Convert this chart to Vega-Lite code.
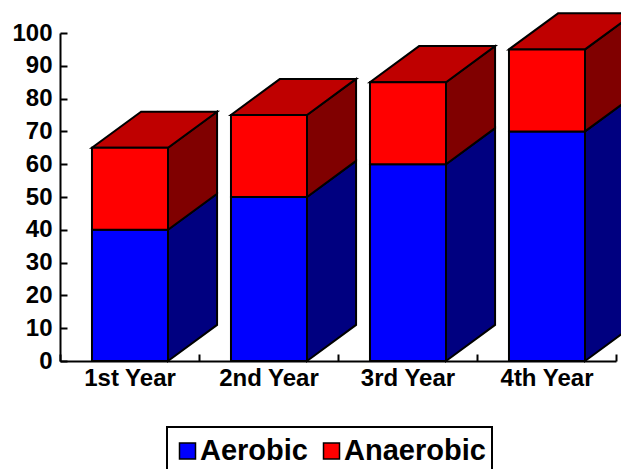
{
"$schema":"https://vega.github.io/schema/vega-lite/v6.json",
"width":556,"height":328,
"autosize":"none",
"padding":{"left":60,"top":33,"right":5,"bottom":108},
"background":"white",
"data":{"values":[
{"year":"1st Year","series":"Aerobic","low":0,"high":40},
{"year":"2nd Year","series":"Aerobic","low":0,"high":50},
{"year":"3rd Year","series":"Aerobic","low":0,"high":60},
{"year":"4th Year","series":"Aerobic","low":0,"high":70},
{"year":"1st Year","series":"Anaerobic","low":40,"high":65},
{"year":"2nd Year","series":"Anaerobic","low":50,"high":75},
{"year":"3rd Year","series":"Anaerobic","low":60,"high":85},
{"year":"4th Year","series":"Anaerobic","low":70,"high":95}
]},
"transform":[
{"calculate":"indexof(['1st Year','2nd Year','3rd Year','4th Year'],datum.year)","as":"i"},
{"calculate":"datum.i+0.23","as":"xl"},
{"calculate":"datum.i+0.777","as":"xr"}
],
"layer":[
{"transform":[{"calculate":"[0,1]","as":"t"},{"flatten":["t"]},
 {"calculate":"datum.xr+0.353*datum.t","as":"sx"},
 {"calculate":"datum.low+11*datum.t","as":"sy"},
 {"calculate":"datum.high+11*datum.t","as":"sy2"}],
 "mark":{"type":"area","stroke":"black","strokeWidth":2,"orient":"vertical","clip":false},
 "encoding":{
  "x":{"field":"sx","type":"quantitative","scale":{"domain":[0,4],"nice":false,"zero":false},
   "axis":{"orient":"bottom","values":[0,1,2,3,4],"labels":false,"title":null,"grid":false,"tickSize":-7,"tickWidth":2,"tickColor":"black","domainWidth":2,"domainColor":"black"}},
  "y":{"field":"sy","type":"quantitative","title":null,"scale":{"domain":[0,100],"nice":false},
   "axis":{"values":[0,10,20,30,40,50,60,70,80,90,100],"title":null,"grid":false,"tickSize":-7,"tickWidth":2,"tickColor":"black","domainWidth":2,"domainColor":"black","labelFont":"Liberation Sans","labelFontWeight":"bold","labelFontSize":24,"labelColor":"black","labelPadding":15,"labelOverlap":false,"labelBound":false,"labelFlush":false}},
  "y2":{"field":"sy2"},
  "detail":{"field":"year"},
  "fill":{"field":"series","type":"nominal","legend":null,"scale":{"domain":["Aerobic","Anaerobic"],"range":["#000080","#800000"]}}
 }},
{"transform":[{"filter":"datum.series==='Anaerobic'"},{"calculate":"[0,1]","as":"t"},{"flatten":["t"]},
 {"calculate":"datum.xl+0.353*datum.t","as":"tx"},
 {"calculate":"datum.xr+0.353*datum.t","as":"tx2"},
 {"calculate":"datum.high+11*datum.t","as":"ty"}],
 "mark":{"type":"area","stroke":"black","strokeWidth":2,"orient":"horizontal","fill":"#bf0000","clip":false},
 "encoding":{
  "y":{"field":"ty","type":"quantitative","title":null,
   "axis":{"values":[0,10,20,30,40,50,60,70,80,90,100],"title":null,"grid":false,"tickSize":-7,"tickWidth":2,"tickColor":"black","domainWidth":2,"domainColor":"black","labelFont":"Liberation Sans","labelFontWeight":"bold","labelFontSize":24,"labelColor":"black","labelPadding":15,"labelOverlap":false,"labelBound":false,"labelFlush":false}},
  "x":{"field":"tx","type":"quantitative","axis":null},
  "x2":{"field":"tx2"},
  "detail":{"field":"year"}
 }},
{"mark":{"type":"rect","stroke":"black","strokeWidth":2},
 "encoding":{
  "x":{"field":"xl","type":"quantitative",
   "axis":{"orient":"bottom","values":[0.5,1.5,2.5,3.5],"labelExpr":"['1st Year','2nd Year','3rd Year','4th Year'][floor(datum.value)]","title":null,"grid":false,"ticks":false,"domain":false,"labelFont":"Liberation Sans","labelFontWeight":"bold","labelFontSize":24,"labelColor":"black","labelPadding":5,"labelFlush":false}},
  "x2":{"field":"xr"},
  "y":{"field":"high","type":"quantitative","title":null,
   "axis":{"values":[0,10,20,30,40,50,60,70,80,90,100],"title":null,"grid":false,"tickSize":-7,"tickWidth":2,"tickColor":"black","domainWidth":2,"domainColor":"black","labelFont":"Liberation Sans","labelFontWeight":"bold","labelFontSize":24,"labelColor":"black","labelPadding":15,"labelOverlap":false,"labelBound":false,"labelFlush":false}},
  "y2":{"field":"low"},
  "color":{"field":"series","type":"nominal","scale":{"domain":["Aerobic","Anaerobic"],"range":["#0000ff","#ff0000"]},
   "legend":{"title":null,"orient":"none","legendX":107,"legendY":394,"direction":"horizontal","columns":2,"symbolType":"square","symbolSize":256,"symbolStrokeColor":"black","symbolStrokeWidth":1.5,"symbolOpacity":1,"labelFont":"Liberation Sans","labelFontWeight":"bold","labelFontSize":29,"labelColor":"black","labelLimit":200,"strokeColor":"black","padding":6,"columnPadding":9,"labelOffset":-2,"clipHeight":36}}
 }}
],
"resolve":{"axis":{"x":"independent"},"scale":{"fill":"independent","color":"independent"}},
"config":{"view":{"stroke":null},"legend":{"strokeWidth":2}}
}
